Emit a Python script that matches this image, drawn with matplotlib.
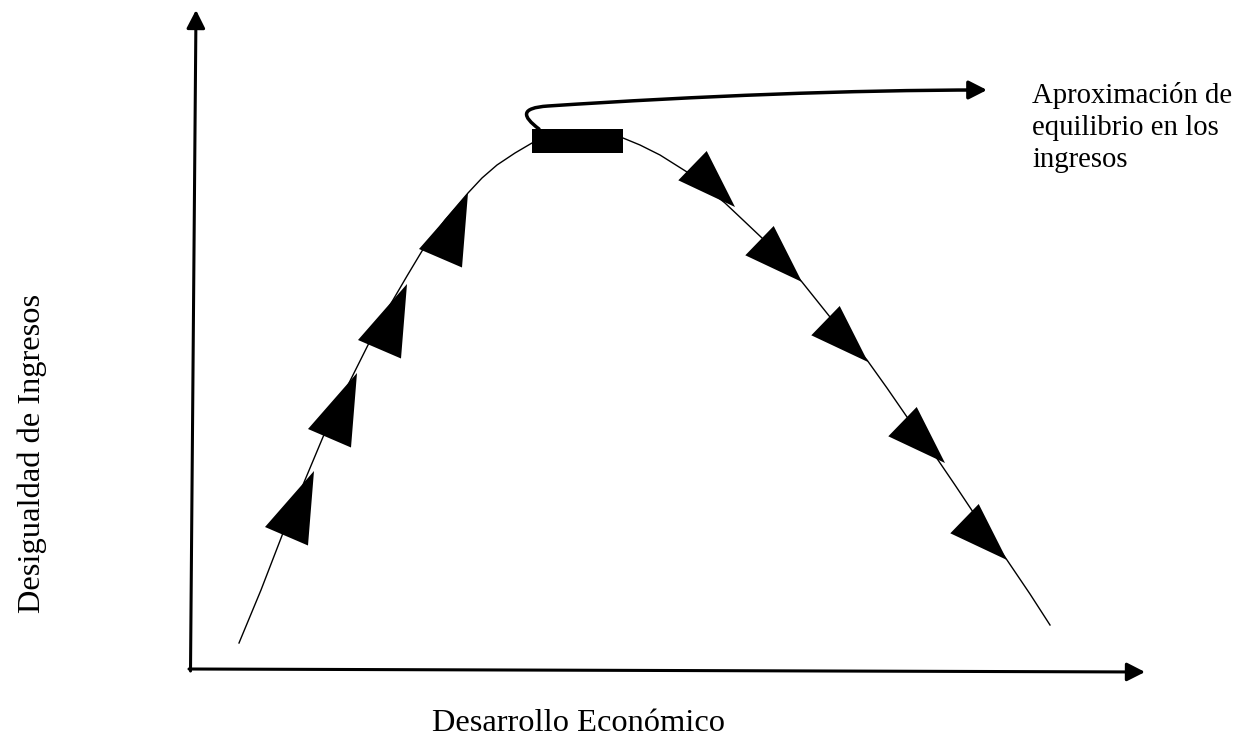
import matplotlib.pyplot as plt
from matplotlib.patches import Polygon, Rectangle, FancyArrowPatch
from matplotlib.path import Path

plt.rcParams['font.family'] = ['Liberation Serif', 'DejaVu Serif']

# Kuznets curve (pixel-like units, y grows downward)
curve_x = [239, 261, 283, 305, 323, 338, 353, 368, 380, 393, 407, 422, 445, 468,
           482, 497, 515, 532, 550, 568, 585, 605, 623, 640, 660, 687, 705, 725,
           743, 762, 782, 802, 830, 848, 867, 887, 907, 938, 955, 973, 1007,
           1030, 1050]
curve_y = [643, 590, 533, 480, 437, 405, 375, 345, 322, 300, 276, 251, 220, 193,
           178, 165, 153, 143, 136, 132, 131, 133, 138, 145, 155, 172, 187, 203,
           220, 238, 259, 282, 317, 338, 360, 388, 417, 460, 485, 512, 560,
           594, 625]

# arrow markers on the rising branch (apex) and the falling branch (tip)
up_x = [314, 357, 407, 468]
up_y = [471, 373, 284, 193]
down_x = [735, 802, 868, 945, 1007]
down_y = [207, 282, 362, 463, 560]

# plateau box at the top of the curve
box = (532, 129, 91, 24)  # x, y, width, height

# axes of the diagram
yaxis_x = [190.5, 196]
yaxis_y = [671, 10]
xaxis_x = [189, 1145]
xaxis_y = [669, 672]

# callout arrow from the box to the note
callout = [(539, 129), (522, 116), (520, 108), (548, 106),
           (700, 96), (850, 90), (987, 90)]

x_label = "Desarrollo Económico"
y_label = "Desigualdad de Ingresos"
note = "Aproximación de\nequilibrio en los\ningresos"

fig = plt.figure(figsize=(12.47, 7.42), dpi=100)
ax = fig.add_axes([0, 0, 1, 1])
ax.set_xlim(0, 1247)
ax.set_ylim(742, 0)
ax.axis('off')

ax.plot(curve_x, curve_y, color='black', lw=1.0, solid_joinstyle='round')

up_shape = [(0, 0), (-49, 56), (-6, 74.5)]
down_shape = [(0, 0), (-28.3, -56), (-56.7, -26.7)]
for x, y in zip(up_x, up_y):
    ax.add_patch(Polygon([(x + dx, y + dy) for dx, dy in up_shape],
                         closed=True, color='black', lw=0))
for x, y in zip(down_x, down_y):
    ax.add_patch(Polygon([(x + dx, y + dy) for dx, dy in down_shape],
                         closed=True, color='black', lw=0))

ax.add_patch(Rectangle(box[:2], box[2], box[3], color='black', lw=0))

# axis arrows
ax.annotate('', xy=(yaxis_x[1], yaxis_y[1]), xytext=(yaxis_x[0], yaxis_y[0]),
            arrowprops=dict(arrowstyle='-|>,head_length=0.55,head_width=0.28',
                            lw=2.2, color='black', mutation_scale=20,
                            shrinkA=0, shrinkB=0))
ax.annotate('', xy=(xaxis_x[1], xaxis_y[1]), xytext=(xaxis_x[0], xaxis_y[0]),
            arrowprops=dict(arrowstyle='-|>,head_length=0.55,head_width=0.28',
                            lw=2.2, color='black', mutation_scale=20,
                            shrinkA=0, shrinkB=0))

codes = [Path.MOVETO, Path.CURVE4, Path.CURVE4, Path.CURVE4,
         Path.CURVE4, Path.CURVE4, Path.CURVE4]
arr = FancyArrowPatch(path=Path(callout, codes),
                      arrowstyle='-|>,head_length=0.55,head_width=0.28',
                      mutation_scale=20, lw=2.5, color='black')
ax.add_patch(arr)

ax.text(1032, 167, note, fontsize=20.7, ha='left', va='baseline',
        linespacing=1.3)
ax.text(578, 731, x_label, fontsize=23.4, ha='center', va='baseline')
ax.text(40, 453, y_label, fontsize=23.4, rotation=90, rotation_mode='anchor',
        ha='center', va='baseline')

fig.savefig('out.png', dpi=100)
